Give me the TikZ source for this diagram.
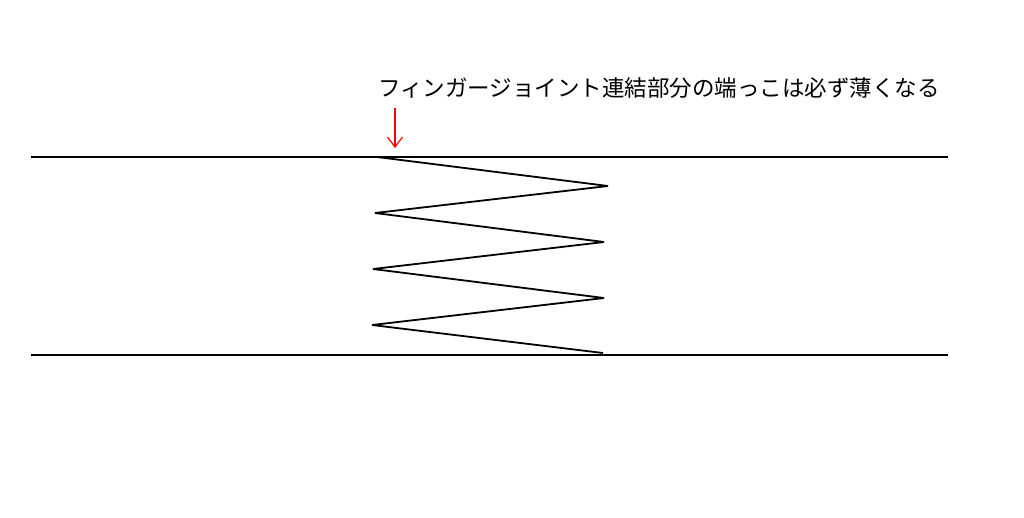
\documentclass[tikz,border=0pt]{standalone}
\usepackage{fontspec}
\newfontfamily\jpfont{Noto Sans CJK JP}
\usepackage{tikz}
\usetikzlibrary{arrows.meta}
\usetikzlibrary{positioning}

\begin{document}
\begin{tikzpicture}[
    x=1pt, y=-1pt,
    edge/.style={%
      draw,
      line width=2pt,
    },
    zig/.style={%
      draw,
      line width=1.8pt,
      line join=bevel,
    },
    pointer/.style={%
      draw=red,
      line width=1.2pt,
      -{Straight Barb[length=10pt,width=15pt]},
    },
    caption/.style={%
      font=\jpfont\fontsize{22.5}{26}\selectfont,
      inner sep=0pt,
      anchor=west,
    },
  ]

    \useasboundingbox (0,0) rectangle (1024,517);

    % board edges
    \coordinate (TL) at (31,157);
    \coordinate (TR) at (948,157);
    \coordinate (BL) at (31,355);
    \coordinate (BR) at (948,355);

    % finger joint
    \coordinate (z0) at (377,157);
    \coordinate (z1) at (608,186);
    \coordinate (z2) at (375,213);
    \coordinate (z3) at (604,242);
    \coordinate (z4) at (373,269);
    \coordinate (z5) at (604,298);
    \coordinate (z6) at (372,325);
    \coordinate (z7) at (603,353);

    \node [caption] (label) at (378,88) {フィンガージョイント連結部分の端っこは必ず薄くなる};
    \coordinate (a1) at (395,108);
    \coordinate (a2) at (395,148);

    \draw [edge] (TL) -- (TR);
    \draw [edge] (BL) -- (BR);
    \draw [zig] (z0) -- (z1) -- (z2) -- (z3) -- (z4) -- (z5) -- (z6) -- (z7);
    \draw [pointer] (a1) -- (a2);
\end{tikzpicture}
\end{document}
